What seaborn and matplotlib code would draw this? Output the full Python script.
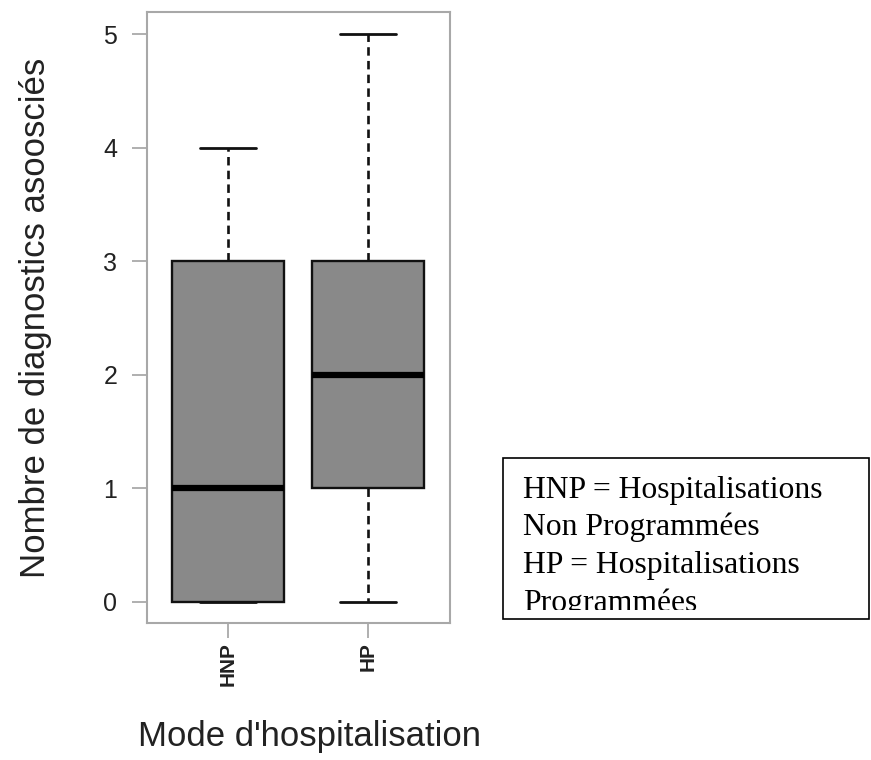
import matplotlib
matplotlib.use("Agg")
import matplotlib.pyplot as plt
from matplotlib.patches import Rectangle
import seaborn as sns
import pandas as pd

# ---- data (five-number summaries) ----
categories = ["HNP", "HP"]
hnp_values = [0, 0, 1, 3, 4]   # min, Q1, median, Q3, max
hp_values = [0, 1, 2, 3, 5]
y_ticks = [0, 1, 2, 3, 4, 5]
y_label = "Nombre de diagnostics asoosciés"
x_label = "Mode d'hospitalisation"
note_lines = ["HNP = Hospitalisations", "Non Programmées",
              "HP = Hospitalisations", "Programmées"]

df = pd.DataFrame({
    "mode": [categories[0]] * len(hnp_values) + [categories[1]] * len(hp_values),
    "n": hnp_values + hp_values,
})

sns.set_theme(style="white")
plt.rcParams["font.family"] = ["Liberation Sans", "DejaVu Sans"]

W, H = 871, 760
fig = plt.figure(figsize=(W / 100, H / 100), dpi=100)
fig.patch.set_facecolor("white")


def fx(x):
    return x / W


def fy(y):
    return 1 - y / H


ax = fig.add_axes([fx(147), fy(623), (450 - 147) / W, (623 - 12) / H])

sns.boxplot(data=df, x="mode", y="n", order=categories, ax=ax,
            width=0.8, color="#898989", saturation=1, linecolor="black",
            linewidth=1.7, whis=1.5, showfliers=False,
            medianprops=dict(linewidth=4.5, color="black"),
            whiskerprops=dict(linestyle=(0, (3.2, 2.0)), linewidth=1.9, color="#111111"),
            capprops=dict(linewidth=2.0, color="#111111"),
            boxprops=dict(edgecolor="#111111", linewidth=1.7))

ax.set_xlim(-0.579, 1.586)
ax.set_ylim(-0.185, 5.194)
ax.set_yticks(y_ticks)
ax.set_yticklabels([str(t) for t in y_ticks], fontsize=18, color="#222222")
ax.set_xticks(range(len(categories)))
ax.set_xticklabels(categories, rotation=90, fontsize=15, fontweight="bold",
                   color="#222222")
ax.tick_params(axis="both", direction="out", length=10.5, width=1.1,
               color="#9a9a9a", left=True, bottom=True)
ax.tick_params(axis="y", pad=11)
ax.tick_params(axis="x", pad=3)
for s in ax.spines.values():
    s.set_color("#a8a8a8")
    s.set_linewidth(1.5)

ax.set_ylabel(y_label, fontsize=25, color="#222222")
ax.yaxis.set_label_coords(-0.3135, 0.5)
ax.set_xlabel(x_label, fontsize=25, color="#222222")
ax.xaxis.set_label_coords(0.535, -0.1588)

# ---- note box ----
bx0, by0, bx1, by1 = 502.5, 457.5, 869, 618.5
frame = Rectangle((fx(bx0), fy(by1)), (bx1 - bx0) / W, (by1 - by0) / H,
                  transform=fig.transFigure, fill=False, edgecolor="black",
                  linewidth=1.2)
fig.add_artist(frame)
clip = Rectangle((fx(bx0), fy(609.5)), (bx1 - bx0) / W, (609.5 - by0) / H,
                 transform=fig.transFigure, fill=False, visible=False)
fig.add_artist(clip)
baselines = [497.7, 535.5, 572.9, 610.8]
for line, yb in zip(note_lines, baselines):
    t = fig.text(fx(522.7), fy(yb), line, fontsize=22.8,
                 family="Liberation Serif", color="black", va="baseline",
                 ha="left")
    t.set_clip_path(clip)

fig.savefig("out.png", dpi=100)
